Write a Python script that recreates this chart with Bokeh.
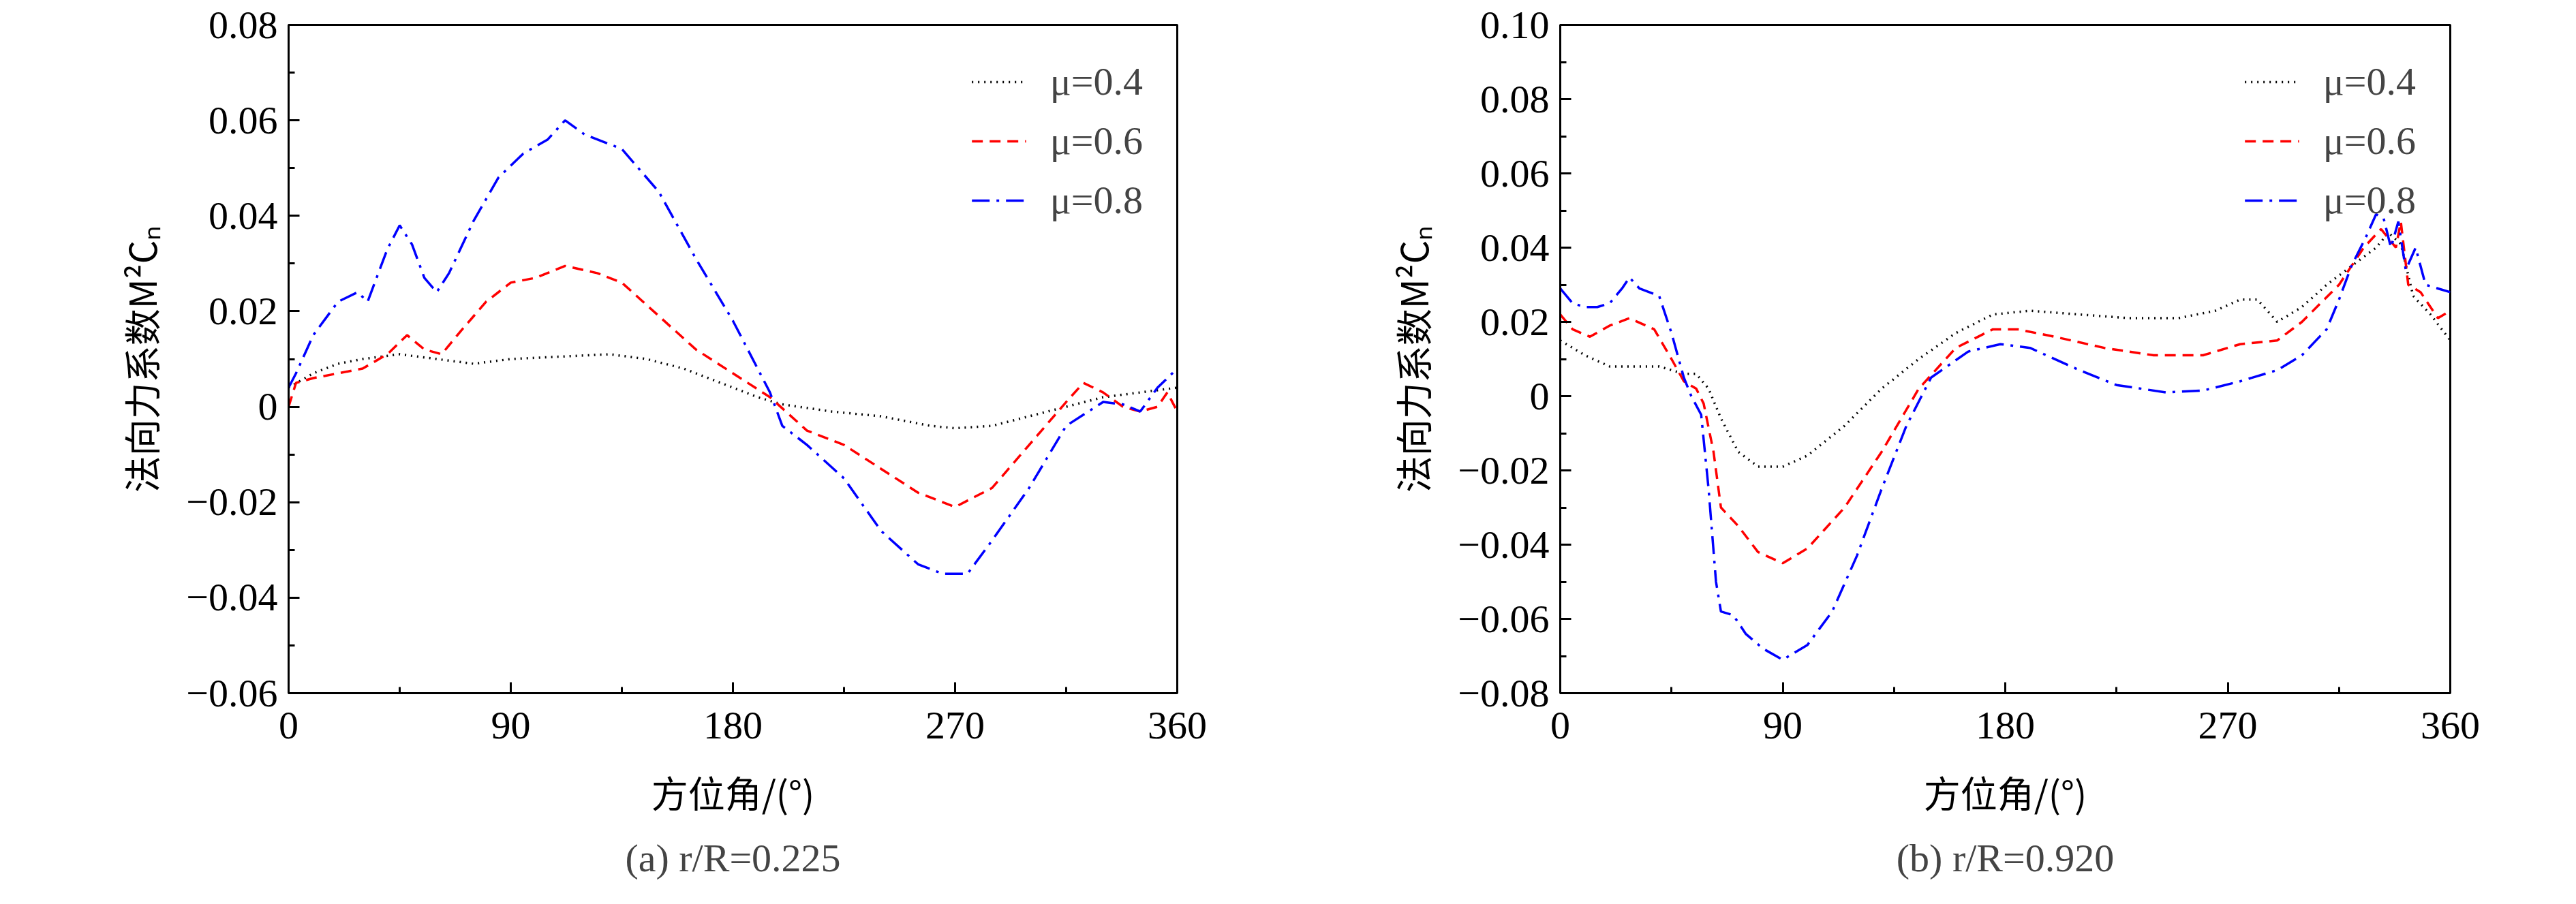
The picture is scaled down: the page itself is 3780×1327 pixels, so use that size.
from bokeh.plotting import figure
from bokeh.layouts import row
from bokeh.models import FixedTicker, Legend, LegendItem, Title, Range1d
from bokeh.embed import file_html
from bokeh.resources import INLINE

# ---- data (a) r/R=0.225 ----
a04_x = [0,10,20,30,45,60,75,90,110,130,145,160,175,190,200,220,240,260,270,285,300,315,330,345,360]
a04_y = [0.004,0.007,0.009,0.010,0.011,0.010,0.009,0.010,0.0105,0.011,0.010,0.008,0.005,0.002,0.0005,-0.001,-0.002,-0.004,-0.0045,-0.004,-0.002,0.000,0.002,0.003,0.004]
a06_x = [0,3,10,20,30,40,48,55,62,70,80,90,100,112,125,135,150,165,180,195,210,225,240,255,270,285,300,315,322,330,338,345,352,356,360]
a06_y = [0.000,0.005,0.006,0.007,0.008,0.011,0.015,0.012,0.011,0.016,0.022,0.026,0.027,0.0295,0.028,0.026,0.019,0.012,0.007,0.002,-0.005,-0.008,-0.013,-0.018,-0.021,-0.017,-0.008,0.001,0.005,0.003,0.000,-0.001,0.000,0.003,-0.001]
a08_x = [0,3,10,20,28,32,40,45,50,55,60,65,75,85,95,105,112,120,135,150,165,180,190,195,200,210,225,240,255,265,275,285,300,315,330,338,345,352,360]
a08_y = [0.004,0.007,0.015,0.022,0.024,0.022,0.033,0.038,0.034,0.027,0.024,0.028,0.039,0.048,0.053,0.056,0.060,0.057,0.054,0.045,0.031,0.018,0.008,0.003,-0.004,-0.008,-0.015,-0.026,-0.033,-0.035,-0.035,-0.028,-0.017,-0.004,0.001,0.0005,-0.001,0.004,0.008]

# ---- data (b) r/R=0.920 ----
b04_x = [0,10,20,30,40,50,55,60,65,72,80,90,100,115,130,145,160,175,190,210,230,250,265,275,282,290,300,310,320,330,335,340,345,352,360]
b04_y = [0.015,0.011,0.008,0.008,0.008,0.006,0.006,0.002,-0.006,-0.015,-0.019,-0.019,-0.016,-0.008,0.002,0.010,0.017,0.022,0.023,0.022,0.021,0.021,0.023,0.026,0.026,0.020,0.024,0.030,0.035,0.040,0.044,0.041,0.027,0.022,0.015]
b06_x = [0,5,12,20,28,38,45,50,55,58,62,65,72,80,90,100,115,130,145,160,175,185,200,220,240,260,275,290,300,315,325,332,338,340,343,348,355,360]
b06_y = [0.022,0.018,0.016,0.019,0.021,0.018,0.010,0.004,0.002,-0.002,-0.015,-0.030,-0.035,-0.042,-0.045,-0.041,-0.030,-0.015,0.002,0.013,0.018,0.018,0.016,0.013,0.011,0.011,0.014,0.015,0.020,0.030,0.040,0.045,0.040,0.047,0.030,0.028,0.021,0.023]
b08_x = [0,5,10,15,20,25,28,32,40,45,50,53,57,60,63,65,70,75,82,90,100,110,120,130,140,150,165,178,190,210,225,245,260,275,290,300,310,315,320,326,330,333,336,339,342,346,350,355,360]
b08_y = [0.029,0.025,0.024,0.024,0.025,0.029,0.032,0.029,0.027,0.017,0.005,0.000,-0.005,-0.025,-0.050,-0.058,-0.059,-0.064,-0.068,-0.071,-0.067,-0.058,-0.043,-0.025,-0.008,0.005,0.012,0.014,0.013,0.007,0.003,0.001,0.0015,0.004,0.007,0.011,0.018,0.026,0.035,0.043,0.049,0.048,0.040,0.047,0.034,0.040,0.030,0.029,0.028]

x_ticks = [0, 90, 180, 270, 360]
a_yticks = [-0.06, -0.04, -0.02, 0, 0.02, 0.04, 0.06, 0.08]
b_yticks = [-0.08, -0.06, -0.04, -0.02, 0, 0.02, 0.04, 0.06, 0.08, 0.10]
labels = ["μ=0.4", "μ=0.6", "μ=0.8"]
colors = ["black", "red", "blue"]
dashes = ["2 7", "16 10", "26 10 4 10"]

SERIF = "'Liberation Serif', 'Times New Roman', serif"
CJK = "Noto Sans CJK SC"


def fmt(v, nd):
    if abs(v) < 1e-12:
        return "0"
    s = f"{abs(v):.{nd}f}"
    return ("\u2212" + s) if v < 0 else s


def make(series, yticks, caption, left, right):
    ylo, yhi = yticks[0], yticks[-1]
    p = figure(width=1890, height=1311, output_backend="svg", toolbar_location=None,
               x_range=Range1d(0, 360), y_range=Range1d(ylo, yhi),
               min_border_left=left, min_border_right=right, min_border_top=36, min_border_bottom=40)
    p.grid.visible = False
    p.outline_line_color = "black"
    p.outline_line_width = 3
    p.background_fill_color = "white"
    p.border_fill_color = "white"
    step = yticks[1] - yticks[0]
    p.xaxis.ticker = FixedTicker(ticks=x_ticks, minor_ticks=[45, 135, 225, 315])
    p.yaxis.ticker = FixedTicker(ticks=yticks, minor_ticks=[t + step / 2 for t in yticks[:-1]])
    p.yaxis.major_label_overrides = {t: fmt(t, 2) for t in yticks}
    for ax in (p.xaxis[0], p.yaxis[0]):
        ax.axis_line_width = 3
        ax.major_tick_in = 16
        ax.major_tick_out = 0
        ax.minor_tick_in = 9
        ax.minor_tick_out = 0
        ax.major_tick_line_width = 3
        ax.minor_tick_line_width = 3
        ax.major_label_text_font = SERIF
        ax.major_label_text_font_size = "58px"
        ax.major_label_text_color = "black"
        ax.axis_label_text_font = CJK
        ax.axis_label_text_font_size = "54px"
        ax.axis_label_text_font_style = "normal"
        ax.axis_label_text_color = "black"
    p.xaxis.major_label_standoff = 28
    p.yaxis.major_label_standoff = 16
    p.xaxis.axis_label = "方位角/(°)"
    p.yaxis.axis_label = "法向力系数M²Cₙ"
    p.xaxis.axis_label_standoff = 36
    p.yaxis.axis_label_standoff = 24
    items = []
    for (xs, ys), lab, c, d in zip(series, labels, colors, dashes):
        r = p.line(xs, ys, line_color=c, line_width=3.5, line_dash=d)
        items.append(LegendItem(label=lab, renderers=[r]))
    leg = Legend(items=items, location="top_right", border_line_alpha=0, background_fill_alpha=0,
                 label_text_font=SERIF, label_text_font_size="58px", label_text_font_style="normal",
                 glyph_width=80, glyph_height=44, spacing=20, label_standoff=35, margin=40)
    p.add_layout(leg)
    p.add_layout(Title(text=caption, align="center", text_font=SERIF, text_font_size="58px",
                       text_font_style="normal", standoff=40), "below")
    return p


pa = make([(a04_x, a04_y), (a06_x, a06_y), (a08_x, a08_y)], a_yticks, "(a) r/R=0.225", 423, 163)
pb = make([(b04_x, b04_y), (b06_x, b06_y), (b08_x, b08_y)], b_yticks, "(b) r/R=0.920", 399, 185)

layout = row(pa, pb)
open("out.html", "w").write(file_html(layout, INLINE))
